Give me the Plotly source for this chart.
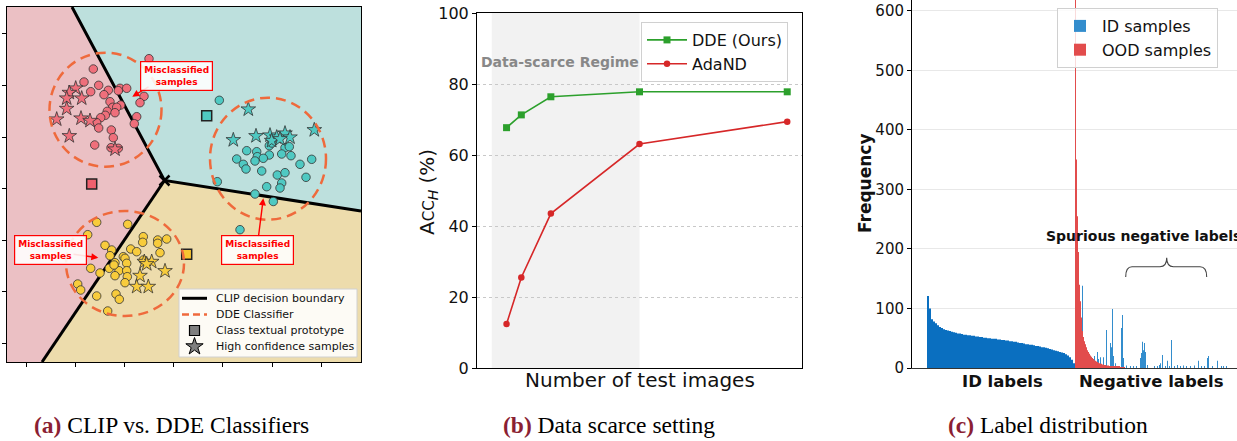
import plotly.graph_objects as go

W, H = 1237, 441
F = "DejaVu Sans"

# ---------------- Panel (a) data (plot units) ----------------
x_range_a = [7, 361]
y_range_a = [362, 7]
boundary_center = [164.5, 180.5]
boundary_top = [72, 7]
boundary_right = [361, 211]
boundary_bottom = [42, 362]

red_cx = [149, 93.3, 84, 98.7, 90.7, 108.3, 104, 120, 126.7, 118.3, 144, 140, 110, 120.7, 112.7,
          116.7, 107.3, 115, 105.3, 100.7, 136.7, 96.7, 134.3, 98.7, 111.3, 113.3, 94.7, 111, 118.3]
red_cy = [58.7, 69, 82, 85.3, 91.7, 90.3, 94.7, 88.3, 88.3, 90.7, 96.3, 102.7, 101.7, 105, 107.3,
          107.3, 111.3, 112.7, 115.3, 117.7, 116.7, 122.7, 123.7, 128, 130, 137.7, 145, 147.7, 148.3]
red_sx = [75.7, 69.3, 66.7, 81.7, 66.7, 56.7, 81, 90, 69.3, 115]
red_sy = [88.3, 92.7, 98.3, 98.3, 108.7, 119.3, 118.3, 120.7, 136, 149.3]

teal_cx = [219.3, 269.3, 285, 289.3, 246.7, 256.7, 269.3, 281.7, 291, 236.7, 257.3, 263.3, 255, 243.3,
           246, 300, 311.7, 261.7, 277.3, 285, 306, 217.3, 281.7, 280, 266.7, 255, 273.3, 240, 272]
teal_cy = [100.3, 145.7, 147.7, 146.7, 150.7, 151.7, 155, 154, 155.7, 159, 156.7, 158.3, 161, 164.3,
           169, 164.3, 159.3, 171, 175, 172.7, 177.3, 181.7, 183, 188, 186.7, 194, 201.5, 229.7, 143]
teal_sx = [248.3, 233.3, 256, 270, 276.7, 285, 290, 314.3, 271.7, 280]
teal_sy = [109.3, 140, 136, 135.3, 137.3, 133.3, 137.3, 130, 140.7, 139]

yel_cx = [96.7, 127.7, 87.7, 143.3, 142.7, 157.7, 166.7, 157.7, 105, 111.7, 130.7, 136.7, 160, 110,
          123.3, 125, 115, 126.7, 90.7, 109.3, 119, 126.7, 100, 115, 127.3, 125, 77.7, 80.7, 96.7,
          116, 119.3, 107.7, 143.3, 114]
yel_cy = [222.3, 224.3, 234.7, 236.7, 242.3, 240, 239, 243.3, 245.3, 250, 249, 251.7, 252.7, 255.7,
          256.7, 258.3, 262.7, 263.3, 268.3, 268.3, 270.7, 270.7, 273, 275.7, 276.7, 282.7, 284, 290,
          296, 294, 299.3, 311, 260, 265]
yel_sx = [144.3, 151.7, 146.7, 165, 140, 136.7, 148.3]
yel_sy = [261.7, 261.7, 264, 271, 275.7, 286.7, 286.7]

proto_x = [91.7, 206.7, 186.7]
proto_y = [184, 115.7, 254.3]

# DDE ellipses: center x, center y, radius x, radius y
dde_cx = [105.5, 268, 125]
dde_cy = [109.7, 158.7, 263.5]
dde_rx = [56, 58, 59]
dde_ry = [57, 61, 52.5]

# misclassified callouts: text centre, arrow tail, arrow head
call_tx = [176, 50.8, 257.8]
call_ty = [76, 249.8, 249.8]
call_ax = [150, 72, 258.3]
call_ay = [86, 254, 238]
call_hx = [132.3, 98.3, 263.3]
call_hy = [96.7, 257.7, 198.3]

legend_a_labels = ["CLIP decision boundary", "DDE Classifier", "Class textual prototype",
                   "High confidence samples"]

# ---------------- Panel (b) data ----------------
test_images = [1, 2, 4, 10, 20]
dde_acc = [67.7, 71.3, 76.4, 77.8, 77.8]
adand_acc = [12.4, 25.5, 43.5, 63.1, 69.4]
scarce_span = [0, 10]

# ---------------- Panel (c) data ----------------
id_freq = [121, 100, 82, 78, 75, 72, 69, 67, 65, 64, 63, 62, 61, 60, 59, 58, 58, 57, 56, 56,
           55, 55, 54, 54, 53, 53, 52, 52, 51, 51, 50, 50, 49, 49, 49, 48, 48, 47, 47, 46,
           46, 45, 45, 44, 44, 43, 42, 42, 41, 40, 40, 39, 39, 38, 37, 37, 36, 35, 35, 34,
           33, 32, 31, 30, 29, 28, 27, 26, 25, 23, 21, 18, 14, 8]
ood_freq = [640, 350, 255, 195, 140, 112, 85, 62, 52, 45, 40, 35, 30, 27, 24, 21, 19, 17, 15, 13,
            12, 11, 10, 9, 8, 7, 7, 6, 6, 5, 5, 4, 4, 4, 3, 3, 3, 3, 2, 2, 2, 2, 2, 2, 2, 1, 1, 1, 1, 1]
spike_pos = [155, 164, 167, 170, 171, 173, 176, 179, 183, 184, 185, 186, 188, 194, 195, 196, 199,
             203, 206, 209, 213, 214, 215, 216, 217, 218, 220, 227, 230, 232, 233, 235, 238, 240,
             242, 244, 247, 250, 253, 256, 259, 263, 267, 271, 274, 277, 280, 281, 285, 290, 294,
             296, 299]
spike_val = [138, 18, 20, 27, 15, 18, 18, 64, 42, 35, 99, 20, 8, 67, 89, 17, 4, 2, 2, 2, 17, 25,
             44, 30, 42, 27, 5, 2, 2, 5, 8, 22, 3, 12, 2, 47, 3, 5, 3, 4, 2, 3, 4, 12, 3, 2, 17,
             20, 3, 12, 3, 2, 2]
freq_ticks = [0, 100, 200, 300, 400, 500, 600]
c_label_pos = [75, 224]
c_label_txt = ["ID labels", "Negative labels"]

# ---------------- figure ----------------
fig = go.Figure()

def dom_x(a, b):
    return [a / W, b / W]

def dom_y(top, bottom):
    return [1 - bottom / H, 1 - top / H]

C = boundary_center
x0a, x1a = x_range_a
ybot, ytop = y_range_a
regions = [
    ("#ebc0c4", [x0a, boundary_top[0], C[0], boundary_bottom[0], x0a],
                [ytop, boundary_top[1], C[1], boundary_bottom[1], ybot]),
    ("#bde0dd", [boundary_top[0], x1a, boundary_right[0], C[0]],
                [boundary_top[1], ytop, boundary_right[1], C[1]]),
    ("#eddcac", [C[0], boundary_right[0], x1a, boundary_bottom[0]],
                [C[1], boundary_right[1], ybot, boundary_bottom[1]]),
]
for col, px, py in regions:
    fig.add_trace(go.Scatter(x=px, y=py, fill="toself", fillcolor=col, mode="lines",
                             line=dict(width=0, color=col), hoverinfo="skip",
                             showlegend=False, xaxis="x", yaxis="y"))

bx = [boundary_top[0], C[0], boundary_right[0], None, C[0], boundary_bottom[0]]
by = [boundary_top[1], C[1], boundary_right[1], None, C[1], boundary_bottom[1]]
fig.add_trace(go.Scatter(x=bx, y=by, mode="lines", line=dict(color="black", width=3),
                         showlegend=False, xaxis="x", yaxis="y"))

pt_cols = ["#ef6f7b", "#4fc9c2", "#f8cc3c"]
for col, cx, cy, sx, sy in [(pt_cols[0], red_cx, red_cy, red_sx, red_sy),
                            (pt_cols[1], teal_cx, teal_cy, teal_sx, teal_sy),
                            (pt_cols[2], yel_cx, yel_cy, yel_sx, yel_sy)]:
    fig.add_trace(go.Scatter(x=cx, y=cy, mode="markers", showlegend=False,
                             marker=dict(size=8.5, color=col, line=dict(color="#333", width=0.8)),
                             xaxis="x", yaxis="y"))
    fig.add_trace(go.Scatter(x=sx, y=sy, mode="markers", showlegend=False,
                             marker=dict(symbol="star", size=11, color=col,
                                         line=dict(color="#333", width=0.8)),
                             xaxis="x", yaxis="y"))
fig.add_trace(go.Scatter(x=proto_x, y=proto_y, mode="markers", showlegend=False,
                         marker=dict(symbol="square", size=10, color=["#f0606e", "#4fc9c2", "#f8c530"],
                                     line=dict(color="#222", width=1.5)),
                         xaxis="x", yaxis="y"))
fig.add_trace(go.Scatter(x=[C[0]], y=[C[1]], mode="markers", showlegend=False,
                         marker=dict(symbol="x-thin", size=10, line=dict(color="black", width=2.5)),
                         xaxis="x", yaxis="y"))

shapes = []
for cx, cy, rx, ry in zip(dde_cx, dde_cy, dde_rx, dde_ry):
    shapes.append(dict(type="circle", xref="x", yref="y", x0=cx - rx, x1=cx + rx,
                       y0=cy - ry, y1=cy + ry,
                       line=dict(color="#ef6a3c", width=2.5, dash="10px,6px")))

annotations = []
for tx, ty, ax, ay, hx, hy in zip(call_tx, call_ty, call_ax, call_ay, call_hx, call_hy):
    annotations.append(dict(xref="x", yref="y", axref="x", ayref="y", x=hx, y=hy, ax=ax, ay=ay,
                            text="", showarrow=True, arrowhead=2, arrowsize=1, arrowwidth=1.4,
                            arrowcolor="red", standoff=0))
    annotations.append(dict(xref="x", yref="y", x=tx, y=ty, showarrow=False,
                            text="<b>Misclassified<br>samples</b>",
                            font=dict(family=F, size=9, color="red"),
                            bgcolor="rgba(255,255,255,0.88)", bordercolor="red",
                            borderwidth=1.2, borderpad=3))

# ---- panel (a) legend, laid out in pixel units on an invisible overlay axis ----
lg_box = [179, 289, 357, 357]     # left, top, right, bottom
lg_row0, lg_dy = 298.3, 16.1
lg_glyph_x0, lg_glyph_x1, lg_text_x = 182, 207, 214
rows = [lg_row0 + k * lg_dy for k in range(4)]
L, T, R, B = lg_box
fig.add_trace(go.Scatter(x=[L, R, R, L, L], y=[T, T, B, B, T], mode="lines", fill="toself",
                         fillcolor="rgba(255,255,255,0.88)", line=dict(color="#d0d0d0", width=1),
                         showlegend=False, hoverinfo="skip", xaxis="x4", yaxis="y4"))
fig.add_trace(go.Scatter(x=[lg_glyph_x0, lg_glyph_x1], y=[rows[0], rows[0]], mode="lines",
                         line=dict(color="black", width=3), showlegend=False, hoverinfo="skip",
                         xaxis="x4", yaxis="y4"))
fig.add_trace(go.Scatter(x=[lg_glyph_x0, lg_glyph_x1], y=[rows[1], rows[1]], mode="lines",
                         line=dict(color="#ef6a3c", width=2.5, dash="7px,4px"), showlegend=False,
                         hoverinfo="skip", xaxis="x4", yaxis="y4"))
gx = (lg_glyph_x0 + lg_glyph_x1) / 2
fig.add_trace(go.Scatter(x=[gx], y=[rows[2]], mode="markers",
                         marker=dict(symbol="square", size=10, color="#7f7f7f",
                                     line=dict(color="black", width=1.2)),
                         showlegend=False, hoverinfo="skip", xaxis="x4", yaxis="y4"))
fig.add_trace(go.Scatter(x=[gx], y=[rows[3]], mode="markers",
                         marker=dict(symbol="star", size=13, color="#7f7f7f",
                                     line=dict(color="black", width=1)),
                         showlegend=False, hoverinfo="skip", xaxis="x4", yaxis="y4"))
for r, lab in zip(rows, legend_a_labels):
    annotations.append(dict(xref="paper", yref="paper", x=lg_text_x / W, y=1 - r / H,
                            xanchor="left", yanchor="middle", showarrow=False, text=lab,
                            font=dict(family=F, size=11, color="#111")))

# ---------------- Panel (b) ----------------
fig.add_trace(go.Scatter(x=test_images, y=dde_acc, mode="lines+markers", name="DDE (Ours)",
                         line=dict(color="#2ca02c", width=1.6),
                         marker=dict(symbol="square", size=7, color="#2ca02c"),
                         legend="legend2", xaxis="x2", yaxis="y2"))
fig.add_trace(go.Scatter(x=test_images, y=adand_acc, mode="lines+markers", name="AdaND",
                         line=dict(color="#d62728", width=1.6),
                         marker=dict(symbol="circle", size=6.5, color="#d62728"),
                         legend="legend2", xaxis="x2", yaxis="y2"))
shapes.append(dict(type="rect", xref="x2", yref="y2 domain", x0=scarce_span[0], x1=scarce_span[1],
                   y0=0, y1=1, fillcolor="#f2f2f2", line=dict(width=0), layer="below"))
annotations.append(dict(xref="x2", yref="y2", x=4.6, y=86.3, showarrow=False,
                        text="<b>Data-scarce Regime</b>",
                        font=dict(family=F, size=14, color="#888888")))
annotations.append(dict(xref="paper", yref="paper", x=640 / W, y=1 - 380 / H, showarrow=False,
                        text="Number of test images", font=dict(family=F, size=20, color="#111"),
                        xanchor="center", yanchor="middle"))
annotations.append(dict(xref="paper", yref="paper", x=428 / W, y=1 - 192 / H, showarrow=False,
                        textangle=-90,
                        text="A<span style='font-size:15px'>CC</span><sub><i>H</i></sub> (%)",
                        font=dict(family=F, size=20, color="#111"),
                        xanchor="center", yanchor="middle"))

# ---------------- Panel (c) ----------------
fig.add_trace(go.Bar(x=[2 * i + 1 for i in range(len(id_freq))], y=id_freq, width=2,
                     marker=dict(color="#0a6fc0", line=dict(width=0)), showlegend=False,
                     xaxis="x3", yaxis="y3"))
fig.add_trace(go.Bar(x=[p + 0.5 for p in spike_pos], y=spike_val, width=1,
                     marker=dict(color="#338dcd", line=dict(width=0)), name="ID samples",
                     legend="legend3", xaxis="x3", yaxis="y3"))
n_id_px = 2 * len(id_freq)
fig.add_trace(go.Bar(x=[n_id_px + j + 0.5 for j in range(len(ood_freq))], y=ood_freq, width=1,
                     marker=dict(color="#e24c4c", line=dict(width=0)), name="OOD samples",
                     legend="legend3", xaxis="x3", yaxis="y3"))
shapes.append(dict(type="path", xref="x3", yref="y3",
                   path="M 198.7,153 Q 198.7,170 205,170 L 233,170 Q 239.7,170 239.7,185 "
                        "Q 239.7,170 246.4,170 L 273,170 Q 279.7,170 279.7,153",
                   line=dict(color="#444", width=1.1)))
annotations.append(dict(xref="x3", yref="y3", x=216, y=222, showarrow=False,
                        text="<b>Spurious negative labels</b>",
                        font=dict(family=F, size=14, color="#111")))
for pos, txt in zip(c_label_pos, c_label_txt):
    annotations.append(dict(xref="x3", yref="paper", x=pos, y=1 - 381.5 / H, showarrow=False,
                            text="<b>%s</b>" % txt, font=dict(family=F, size=16.5, color="#111"),
                            xanchor="center", yanchor="middle"))
annotations.append(dict(xref="paper", yref="paper", x=865 / W, y=1 - 183 / H, showarrow=False,
                        textangle=-90, text="<b>Frequency</b>",
                        font=dict(family=F, size=17, color="#111"),
                        xanchor="center", yanchor="middle"))

# ---------------- captions ----------------
caps = [(171, "(a)", "CLIP vs. DDE Classifiers"), (608.5, "(b)", "Data scarce setting"),
        (1047.5, "(c)", "Label distribution")]
for cx, tag, txt in caps:
    annotations.append(dict(xref="paper", yref="paper", x=cx / W, y=1 - 425 / H, showarrow=False,
                            text="<b><span style='color:#8b1f33'>%s</span></b> %s" % (tag, txt),
                            font=dict(family="Liberation Serif", size=23.5, color="black"),
                            xanchor="center", yanchor="middle"))

axis_common = dict(showgrid=False, zeroline=False, showline=True, linecolor="black", linewidth=1,
                   automargin=False)

fig.update_layout(
    template="none",
    width=W, height=H, margin=dict(l=0, r=0, t=0, b=0, autoexpand=False),
    paper_bgcolor="white", plot_bgcolor="rgba(0,0,0,0)", barmode="overlay",
    font=dict(family=F, color="#111"),
    xaxis=dict(domain=dom_x(7, 361), range=x_range_a, mirror=True, ticks="outside", ticklen=4,
               tickcolor="black", tickvals=[26, 75, 124, 173, 222, 272, 321],
               showticklabels=False, anchor="y", **axis_common),
    yaxis=dict(domain=dom_y(7, 362), range=y_range_a, mirror=True, ticks="outside", ticklen=4,
               tickcolor="black", tickvals=[33, 85, 137, 188, 240, 291, 343],
               showticklabels=False, anchor="x", **axis_common),
    xaxis2=dict(domain=dom_x(477, 802), range=[-1, 21], mirror=True, showticklabels=False,
                ticks="", anchor="y2", **axis_common),
    yaxis2=dict(domain=dom_y(13, 368), range=[0, 100], mirror=True, ticks="outside", ticklen=4,
                tickcolor="black", tickvals=[0, 20, 40, 60, 80, 100],
                tickfont=dict(size=16, color="#111"),
                anchor="x2", showline=True, linecolor="black", linewidth=1, zeroline=False,
                showgrid=True, gridcolor="#c8c8c8", griddash="dot", gridwidth=1, automargin=False),
    xaxis3=dict(domain=dom_x(912, 1237), range=[-15, 310], showticklabels=False, ticks="",
                anchor="y3", showgrid=False, zeroline=False, showline=True, linecolor="#333",
                linewidth=1.2, automargin=False),
    yaxis3=dict(domain=dom_y(0, 368), range=[0, 618], ticks="outside", ticklen=4,
                tickcolor="black", tickvals=freq_ticks, tickfont=dict(size=15, color="#111"),
                anchor="x3", showline=True, linecolor="black", linewidth=1, zeroline=False,
                showgrid=True, gridcolor="#e8e8e8", gridwidth=1, automargin=False),
    xaxis4=dict(domain=[0, 1], range=[0, W], visible=False, fixedrange=True, anchor="y4"),
    yaxis4=dict(domain=[0, 1], range=[H, 0], visible=False, fixedrange=True, anchor="x4"),
    legend2=dict(x=641 / W, y=1 - 22 / H, xanchor="left", yanchor="top", itemwidth=40,
                 font=dict(family=F, size=16, color="#111"), bgcolor="rgba(255,255,255,0.8)",
                 bordercolor="#d0d0d0", borderwidth=1),
    legend3=dict(x=1057 / W, y=1 - 8 / H, xanchor="left", yanchor="top", itemwidth=34,
                 font=dict(family=F, size=16, color="#111"), bgcolor="rgba(255,255,255,0.8)",
                 bordercolor="#d0d0d0", borderwidth=1),
    shapes=shapes, annotations=annotations,
)

fig.write_html("out.html", config={"displayModeBar": False},
               post_script="document.body.style.margin='0px';"
                           "document.body.style.overflow='hidden';")
